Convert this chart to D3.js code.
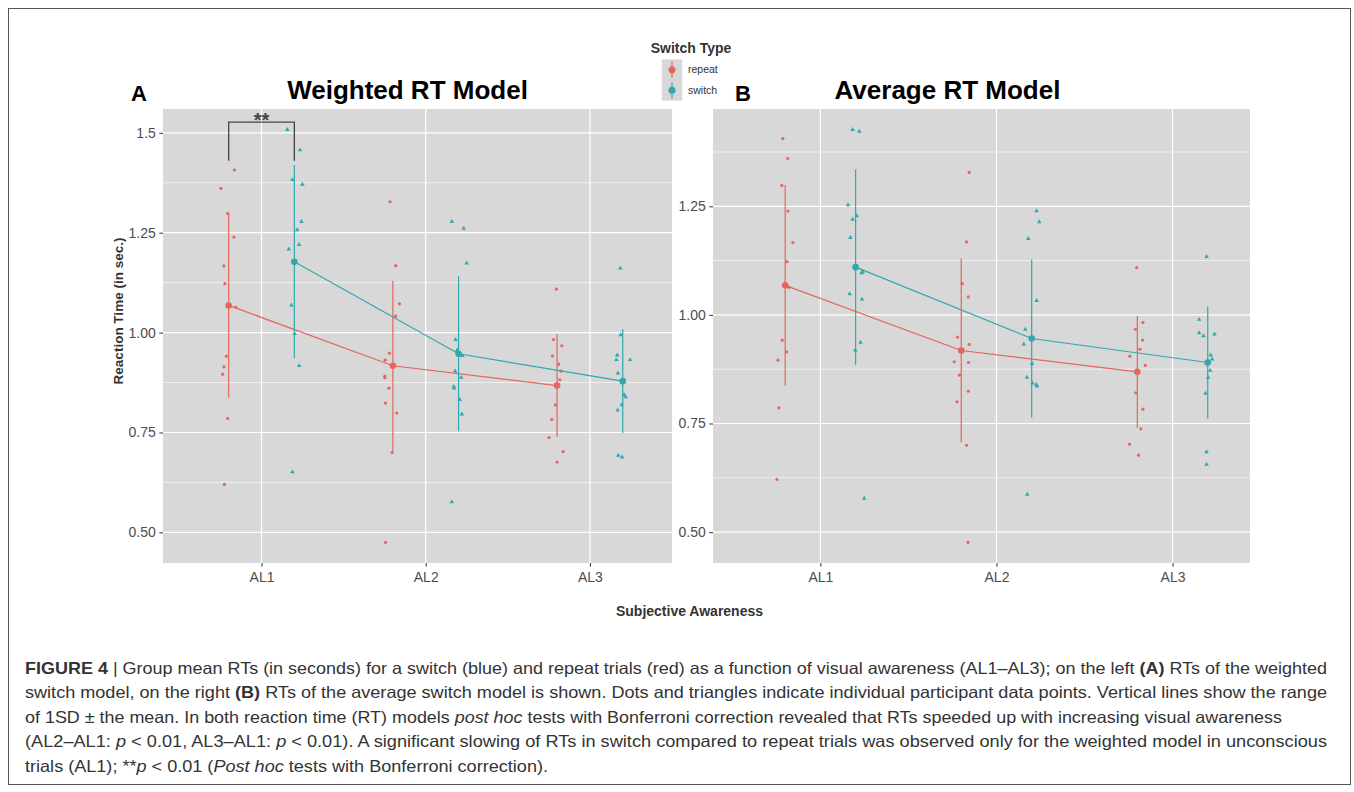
<!DOCTYPE html>
<html><head><meta charset="utf-8">
<script src="https://cdn.jsdelivr.net/npm/d3@7"></script>
<style>
body{margin:0;background:#fff}
svg{display:block}
text{font-family:"Liberation Sans",Arial,Helvetica,sans-serif}
</style>
</head><body>
<svg id="c" width="1354" height="792"></svg>
<script>
// ---------------- DATA ----------------
const categories = ["AL1", "AL2", "AL3"];
const groups = ["repeat", "switch"];
const panelTitles = ["Weighted RT Model", "Average RT Model"];
const panelLetters = ["A", "B"];
const yTickValuesA = [0.5, 0.75, 1.0, 1.25, 1.5];
const yTickLabelsA = ["0.50", "0.75", "1.00", "1.25", "1.5"];
const yTickValuesB = [0.5, 0.75, 1.0, 1.25];
const yTickLabelsB = ["0.50", "0.75", "1.00", "1.25"];

// Weighted model (A)
const weightedRepeatMean = [1.068, 0.917, 0.8675];
const weightedRepeatSD   = [0.231, 0.213, 0.129];
const weightedSwitchMean = [1.1775, 0.947, 0.8785];
const weightedSwitchSD   = [0.242, 0.194, 0.130];
const weightedRepeatPoints = [
  [1.407, 1.361, 1.298, 1.239, 1.167, 1.1225, 1.0635, 0.941, 0.914, 0.896, 0.785, 0.62],
  [1.3275, 1.1675, 1.072, 1.041, 0.9485, 0.931, 0.891, 0.887, 0.861, 0.8235, 0.7985, 0.70, 0.475],
  [1.109, 0.9825, 0.967, 0.942, 0.921, 0.9035, 0.882, 0.819, 0.7825, 0.737, 0.702, 0.676]
];
const weightedRepeatJitter = [
  [0.035, -0.047, -0.006, 0.032, -0.029, -0.023, 0.043, -0.014, -0.029, -0.037, -0.006, -0.026],
  [-0.017, 0.018, 0.040, 0.017, -0.021, -0.047, -0.049, -0.049, -0.024, -0.045, 0.024, -0.004, -0.045],
  [-0.004, -0.022, 0.029, -0.028, 0.010, 0.024, 0.017, -0.010, -0.032, -0.049, 0.037, 0.0]
];
const weightedSwitchPoints = [
  [1.508, 1.457, 1.3825, 1.371, 1.2775, 1.257, 1.22, 1.209, 1.0685, 0.997, 0.917, 0.651],
  [1.2775, 1.261, 1.1735, 0.9825, 0.956, 0.942, 0.9035, 0.8875, 0.865, 0.861, 0.832, 0.796, 0.576],
  [1.161, 0.994, 0.9435, 0.932, 0.932, 0.8985, 0.844, 0.839, 0.819, 0.806, 0.6925, 0.6885]
];
const weightedSwitchJitter = [
  [-0.043, 0.035, -0.012, 0.049, 0.043, 0.017, 0.029, -0.034, -0.018, 0.002, 0.029, -0.012],
  [-0.041, 0.031, 0.049, -0.018, -0.009, 0.024, -0.021, 0.016, -0.029, -0.027, 0.008, 0.020, -0.041],
  [-0.015, -0.012, -0.033, -0.039, 0.045, -0.029, 0.008, 0.018, -0.006, -0.031, -0.027, -0.004]
];

// Average model (B)
const averageRepeatMean = [1.068, 0.918, 0.869];
const averageRepeatSD   = [0.231, 0.212, 0.1285];
const averageSwitchMean = [1.110, 0.9457, 0.8905];
const averageSwitchSD   = [0.225, 0.182, 0.129];
const averageRepeatPoints = [
  [1.406, 1.360, 1.298, 1.239, 1.1665, 1.1228, 1.0635, 0.9418, 0.915, 0.8958, 0.786, 0.6213],
  [1.328, 1.168, 1.0722, 1.0414, 0.949, 0.932, 0.8919, 0.8905, 0.8613, 0.8245, 0.80, 0.700, 0.4764],
  [1.109, 0.9825, 0.967, 0.942, 0.921, 0.905, 0.8836, 0.8206, 0.783, 0.7377, 0.7025, 0.677]
];
const averageRepeatJitter = [
  [-0.013, 0.014, -0.019, 0.015, 0.044, 0.011, 0.021, -0.017, 0.008, -0.041, -0.036, -0.047],
  [0.045, 0.030, 0.006, 0.040, -0.021, 0.045, -0.040, 0.041, -0.010, 0.040, -0.024, 0.030, 0.038],
  [-0.004, 0.032, -0.011, 0.030, 0.015, -0.042, 0.045, -0.008, 0.032, 0.020, -0.044, 0.007]
];
const averageSwitchPoints = [
  [1.4265, 1.4226, 1.253, 1.2278, 1.2195, 1.178, 1.0966, 1.099, 1.0483, 1.036, 0.9365, 0.9188, 0.5776],
  [1.2393, 1.214, 1.1757, 1.033, 0.9664, 0.9326, 0.888, 0.856, 0.843, 0.8395, 0.836, 0.587],
  [1.1343, 0.9894, 0.9586, 0.9517, 0.9556, 0.9073, 0.898, 0.872, 0.856, 0.8192, 0.6848, 0.6558]
];
const averageSwitchJitter = [
  [-0.017, 0.021, -0.043, 0.006, -0.017, -0.030, 0.034, 0.040, -0.034, 0.036, 0.028, -0.002, 0.049],
  [0.028, 0.043, -0.019, 0.028, -0.036, -0.045, 0.002, -0.027, 0.004, 0.026, 0.030, -0.025],
  [-0.007, -0.049, -0.049, -0.024, 0.038, 0.017, 0.025, 0.014, 0.002, -0.013, -0.007, -0.007]
];

// significance annotation (panel A, AL1)
const sigLabel = "**";
const sigBracket = {from: 0.8, to: 1.2, top: 1.527, bottom: 1.43};

const captionLines = [
  [["FIGURE 4", "b"], [" | Group mean RTs (in seconds) for a switch (blue) and repeat trials (red) as a function of visual awareness (AL1–AL3); on the left ", "n"], ["(A)", "b"], [" RTs of the weighted", "n"]],
  [["switch model, on the right ", "n"], ["(B)", "b"], [" RTs of the average switch model is shown. Dots and triangles indicate individual participant data points. Vertical lines show the range", "n"]],
  [["of 1SD ± the mean. In both reaction time (RT) models ", "n"], ["post hoc", "i"], [" tests with Bonferroni correction revealed that RTs speeded up with increasing visual awareness", "n"]],
  [["(AL2–AL1: ", "n"], ["p", "i"], [" < 0.01, AL3–AL1: ", "n"], ["p", "i"], [" < 0.01). A significant slowing of RTs in switch compared to repeat trials was observed only for the weighted model in unconscious", "n"]],
  [["trials (AL1); **", "n"], ["p", "i"], [" < 0.01 (", "n"], ["Post hoc", "i"], [" tests with Bonferroni correction).", "n"]]
];

// ---------------- DRAW ----------------
const colors = {repeat: "#E4665C", switch: "#30A8AF"};
const panelBg = "#D8D8D8";
const svg = d3.select("#c");

svg.append("rect").attr("x", 8.5).attr("y", 8.5).attr("width", 1342).attr("height", 776)
  .attr("fill", "none").attr("stroke", "#555").attr("stroke-width", 1);

function drawPanel(cfg) {
  const x = d3.scaleLinear().domain(cfg.xDomain).range([cfg.left, cfg.right]);
  const allVals = cfg.points.flat().flat();
  const [mn, mx] = d3.extent(allVals);
  const pad = (mx - mn) * 0.05;
  const y = d3.scaleLinear().domain([mn - pad, mx + pad]).range([cfg.bottom, cfg.top]);
  const g = svg.append("g");

  g.append("rect").attr("x", cfg.left).attr("y", cfg.top)
    .attr("width", cfg.right - cfg.left).attr("height", cfg.bottom - cfg.top).attr("fill", panelBg);

  // minor grid
  const major = [0.25, 0.5, 0.75, 1.0, 1.25, 1.5, 1.75];
  const minor = major.slice(1).map((v, i) => (v + major[i]) / 2)
    .filter(v => v > y.domain()[0] && v < y.domain()[1]);
  g.selectAll(".ymin").data(minor).join("line")
    .attr("x1", cfg.left).attr("x2", cfg.right)
    .attr("y1", d => y(d)).attr("y2", d => y(d))
    .attr("stroke", "#fff").attr("stroke-width", 0.6);
  g.selectAll(".ymaj").data(cfg.yTicks).join("line")
    .attr("x1", cfg.left).attr("x2", cfg.right)
    .attr("y1", d => y(d)).attr("y2", d => y(d))
    .attr("stroke", "#fff").attr("stroke-width", 1.2);
  g.selectAll(".xmaj").data(categories).join("line")
    .attr("x1", (d, i) => x(i + 1)).attr("x2", (d, i) => x(i + 1))
    .attr("y1", cfg.top).attr("y2", cfg.bottom)
    .attr("stroke", "#fff").attr("stroke-width", 1.2);

  // axes
  const ya = g.append("g").attr("transform", `translate(${cfg.left},0)`)
    .call(d3.axisLeft(y).tickValues(cfg.yTicks).tickFormat((d, i) => cfg.yLabels[i]).tickSize(3.7).tickPadding(3.5));
  ya.select(".domain").remove();
  ya.selectAll(".tick line").attr("stroke", "#333");
  ya.selectAll(".tick text").attr("fill", "#4D4D4D").style("font-size", "14px");

  const xa = g.append("g").attr("transform", `translate(0,${cfg.bottom})`)
    .call(d3.axisBottom(x).tickValues([1, 2, 3]).tickFormat((d, i) => categories[i]).tickSize(3.7).tickPadding(5.5));
  xa.select(".domain").remove();
  xa.selectAll(".tick line").attr("stroke", "#333");
  xa.selectAll(".tick text").attr("fill", "#4D4D4D").style("font-size", "14px");

  const dodge = {repeat: -0.2, switch: 0.2};
  groups.forEach((grp, gi) => {
    const pts = [];
    cfg.points[gi].forEach((arr, ci) => arr.forEach((v, k) =>
      pts.push({cx: ci + 1 + dodge[grp] + cfg.jitter[gi][ci][k], v})));
    if (grp === "repeat") {
      g.selectAll(null).data(pts).join("circle")
        .attr("cx", d => x(d.cx)).attr("cy", d => y(d.v)).attr("r", 1.6)
        .attr("fill", colors[grp]);
    } else {
      const sym = d3.symbol().type(d3.symbolTriangle).size(9);
      g.selectAll(null).data(pts).join("path")
        .attr("d", sym)
        .attr("transform", d => `translate(${x(d.cx)},${y(d.v)})`)
        .attr("fill", colors[grp]);
    }
    const means = cfg.means[gi].map((m, ci) => ({cx: ci + 1 + dodge[grp], m, sd: cfg.sds[gi][ci]}));
    g.selectAll(null).data(means).join("line")
      .attr("x1", d => x(d.cx)).attr("x2", d => x(d.cx))
      .attr("y1", d => y(d.m - d.sd)).attr("y2", d => y(d.m + d.sd))
      .attr("stroke", colors[grp]).attr("stroke-width", 1.2);
    g.append("path").datum(means)
      .attr("d", d3.line().x(d => x(d.cx)).y(d => y(d.m)))
      .attr("fill", "none").attr("stroke", colors[grp]).attr("stroke-width", 1.2);
    g.selectAll(null).data(means).join("circle")
      .attr("cx", d => x(d.cx)).attr("cy", d => y(d.m)).attr("r", 3.3)
      .attr("fill", colors[grp]);
  });

  if (cfg.sig) {
    const s = cfg.sig;
    g.append("path")
      .attr("d", `M${x(s.from)},${y(s.bottom)}V${y(s.top)}H${x(s.to)}V${y(s.bottom)}`)
      .attr("fill", "none").attr("stroke", "#444").attr("stroke-width", 1.3);
    g.append("text").attr("x", (x(s.from) + x(s.to)) / 2).attr("y", y(s.top) + 5)
      .attr("text-anchor", "middle").attr("fill", "#444")
      .style("font-size", "20px").style("font-weight", "bold").text(sigLabel);
  }

  svg.append("text").attr("x", cfg.titleX).attr("y", 98.5).attr("text-anchor", "middle")
    .style("font-size", "26px").style("font-weight", "bold").attr("fill", "#000").text(cfg.title);
  svg.append("text").attr("x", cfg.letterX).attr("y", 100.5)
    .style("font-size", "22px").style("font-weight", "bold").attr("fill", "#000").text(cfg.letter);
}

drawPanel({
  left: 163, right: 672, top: 109, bottom: 563, xDomain: [0.4, 3.5],
  points: [weightedRepeatPoints, weightedSwitchPoints],
  jitter: [weightedRepeatJitter, weightedSwitchJitter],
  means: [weightedRepeatMean, weightedSwitchMean],
  sds: [weightedRepeatSD, weightedSwitchSD],
  yTicks: yTickValuesA, yLabels: yTickLabelsA,
  title: panelTitles[0], titleX: 407.5, letter: panelLetters[0], letterX: 131,
  sig: sigBracket
});
drawPanel({
  left: 713, right: 1250, top: 109, bottom: 563, xDomain: [0.39, 3.44],
  points: [averageRepeatPoints, averageSwitchPoints],
  jitter: [averageRepeatJitter, averageSwitchJitter],
  means: [averageRepeatMean, averageSwitchMean],
  sds: [averageRepeatSD, averageSwitchSD],
  yTicks: yTickValuesB, yLabels: yTickLabelsB,
  title: panelTitles[1], titleX: 947.5, letter: panelLetters[1], letterX: 735
});

// axis titles
svg.append("text").attr("transform", "translate(123,311) rotate(-90)")
  .attr("text-anchor", "middle").style("font-size", "13.5px").style("font-weight", "bold")
  .attr("fill", "#333").text("Reaction Time (in sec.)");
svg.append("text").attr("x", 689.5).attr("y", 616)
  .attr("text-anchor", "middle").style("font-size", "14px").style("font-weight", "bold")
  .attr("fill", "#333").text("Subjective Awareness");

// legend
const lg = svg.append("g");
lg.append("text").attr("x", 691).attr("y", 52.5).attr("text-anchor", "middle")
  .style("font-size", "14px").style("font-weight", "bold").attr("fill", "#333").text("Switch Type");
lg.append("rect").attr("x", 661.7).attr("y", 59.3).attr("width", 20.6).attr("height", 41.4).attr("fill", panelBg);
groups.forEach((grp, i) => {
  const cy = 69.7 + i * 20.6;
  lg.append("line").attr("x1", 672).attr("x2", 672).attr("y1", cy - 8).attr("y2", cy + 8)
    .attr("stroke", colors[grp]).attr("stroke-width", 1.2);
  lg.append("circle").attr("cx", 672).attr("cy", cy).attr("r", 3.5).attr("fill", colors[grp]);
  lg.append("text").attr("x", 688).attr("y", cy + 3.5).style("font-size", "10.5px")
    .attr("fill", "#333").text(grp);
});

// caption
const capWidths = [1302, 1302, 1257, 1302, 523];
const capBase = 673.5;
captionLines.forEach((segs, li) => {
  const t = svg.append("text").attr("x", 25).attr("y", capBase + li * 24.5)
    .style("font-size", "16.5px").attr("fill", "#333")
    .attr("textLength", capWidths[li]).attr("lengthAdjust", "spacingAndGlyphs")
    .attr("xml:space", "preserve");
  segs.forEach(([txt, st]) => {
    t.append("tspan").text(txt)
      .style("font-weight", st === "b" ? "bold" : "normal")
      .style("font-style", st === "i" ? "italic" : "normal");
  });
});
</script>
</body></html>
